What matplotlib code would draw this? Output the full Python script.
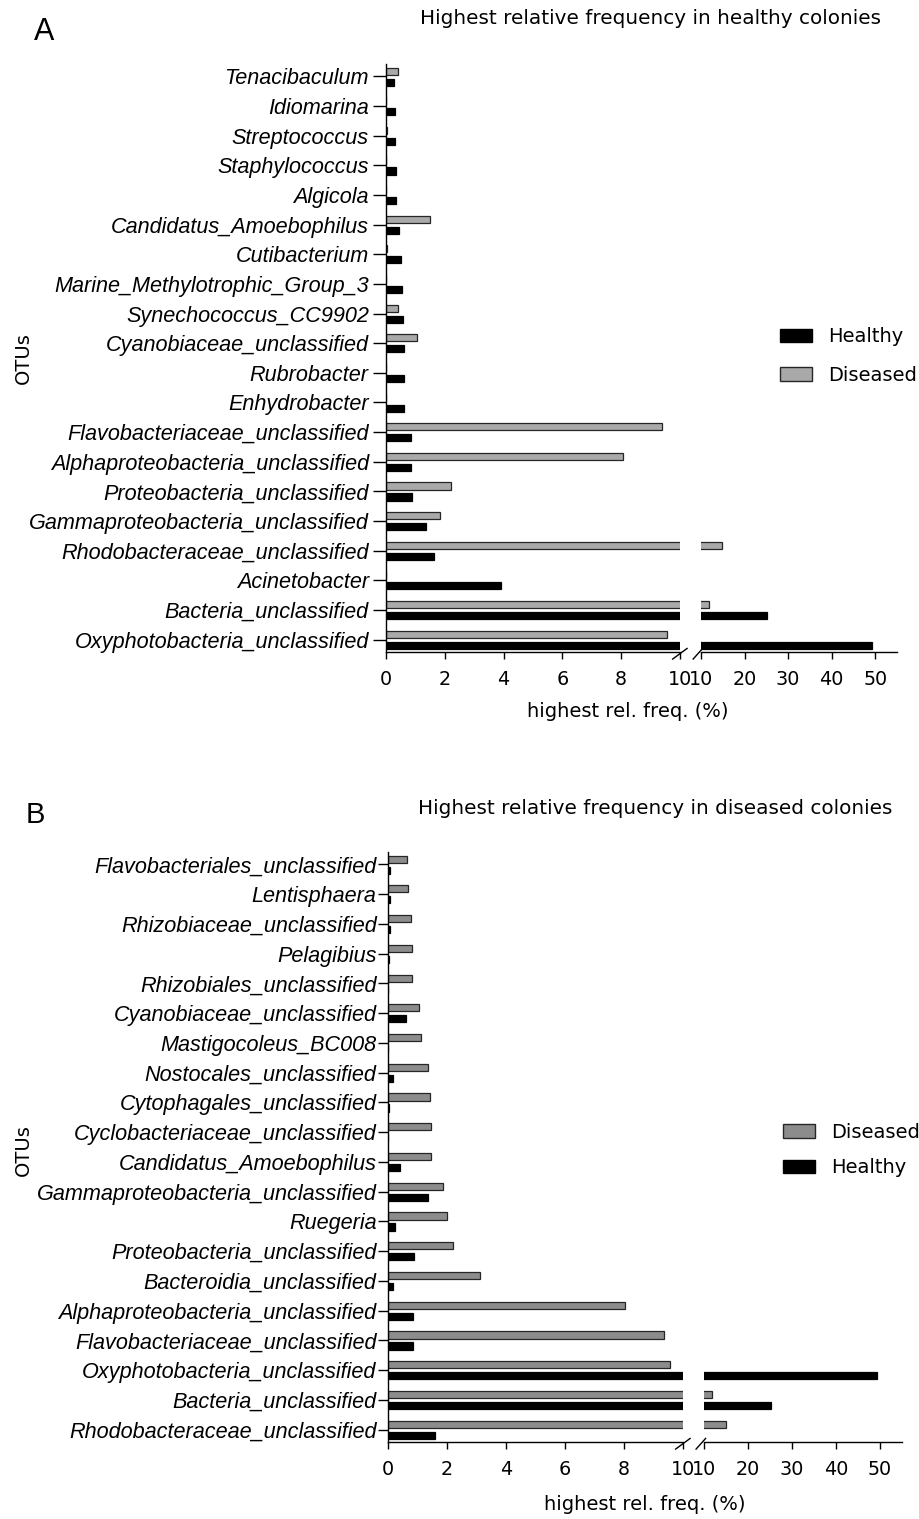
import numpy as np
import matplotlib
matplotlib.use('Agg')
import matplotlib.pyplot as plt
from matplotlib.patches import Patch

# panel A: highest relative frequency in healthy colonies
otus_a = ['Tenacibaculum', 'Idiomarina', 'Streptococcus', 'Staphylococcus', 'Algicola',
          'Candidatus_Amoebophilus', 'Cutibacterium', 'Marine_Methylotrophic_Group_3',
          'Synechococcus_CC9902', 'Cyanobiaceae_unclassified', 'Rubrobacter', 'Enhydrobacter',
          'Flavobacteriaceae_unclassified', 'Alphaproteobacteria_unclassified',
          'Proteobacteria_unclassified', 'Gammaproteobacteria_unclassified',
          'Rhodobacteraceae_unclassified', 'Acinetobacter', 'Bacteria_unclassified',
          'Oxyphotobacteria_unclassified']
healthy_a = [0.28, 0.31, 0.32, 0.33, 0.33, 0.44, 0.50, 0.53, 0.58, 0.60, 0.61, 0.62,
             0.85, 0.86, 0.90, 1.37, 1.63, 3.92, 25.2, 49.3]
diseased_a = [0.42, 0.0, 0.04, 0.0, 0.0, 1.50, 0.04, 0.0, 0.42, 1.04, 0.0, 0.0,
              9.40, 8.05, 2.21, 1.84, 14.8, 0.0, 11.8, 9.57]

# panel B: highest relative frequency in diseased colonies
otus_b = ['Flavobacteriales_unclassified', 'Lentisphaera', 'Rhizobiaceae_unclassified',
          'Pelagibius', 'Rhizobiales_unclassified', 'Cyanobiaceae_unclassified',
          'Mastigocoleus_BC008', 'Nostocales_unclassified', 'Cytophagales_unclassified',
          'Cyclobacteriaceae_unclassified', 'Candidatus_Amoebophilus',
          'Gammaproteobacteria_unclassified', 'Ruegeria', 'Proteobacteria_unclassified',
          'Bacteroidia_unclassified', 'Alphaproteobacteria_unclassified',
          'Flavobacteriaceae_unclassified', 'Oxyphotobacteria_unclassified',
          'Bacteria_unclassified', 'Rhodobacteraceae_unclassified']
diseased_b = [0.63, 0.69, 0.78, 0.81, 0.83, 1.04, 1.13, 1.35, 1.44, 1.46, 1.45, 1.85,
              1.99, 2.22, 3.11, 8.03, 9.37, 9.56, 11.8, 14.9]
healthy_b = [0.08, 0.08, 0.08, 0.04, 0.0, 0.60, 0.0, 0.17, 0.03, 0.0, 0.42, 1.36,
             0.23, 0.88, 0.16, 0.86, 0.84, 49.3, 25.3, 1.61]

left_ticks = [0, 2, 4, 6, 8, 10]
right_ticks = [10, 20, 30, 40, 50]

W, H = 920, 1519
fig = plt.figure(figsize=(W / 100, H / 100), dpi=100)


def rect(x0, x1, y0, y1):
    # pixel box (top-left origin) -> figure fraction
    return [x0 / W, 1 - y1 / H, (x1 - x0) / W, (y1 - y0) / H]


def draw_panel(box_l, box_r, otus, healthy, diseased, dis_color, ytick_len, ytick_pad):
    ax_l = fig.add_axes(rect(*box_l))
    ax_r = fig.add_axes(rect(*box_r))
    n = len(otus)
    pos = np.arange(n)
    for ax in (ax_l, ax_r):
        ax.barh(pos - 0.18, diseased, height=0.24, color=dis_color,
                edgecolor='#262626', linewidth=0.9)
        ax.barh(pos + 0.19, healthy, height=0.24, color='black',
                edgecolor='black', linewidth=0.9)
        ax.set_ylim(n - 1 + 0.42, -0.42)
        ax.spines['top'].set_visible(False)
        ax.spines['right'].set_visible(False)
        for s in ax.spines.values():
            s.set_linewidth(1.0)
        ax.tick_params(axis='x', length=5, width=1.0, pad=8, labelsize=13.8)
    ax_l.set_xlim(0, 10)
    ax_r.set_xlim(10, 55)
    ax_l.set_xticks(left_ticks)
    ax_r.set_xticks(right_ticks)
    ax_l.set_yticks(pos)
    ax_l.set_yticklabels(otus, fontstyle='italic', family='Liberation Sans', fontsize=15.6)
    ax_l.tick_params(axis='y', length=ytick_len, width=1.0, pad=ytick_pad)
    ax_r.spines['left'].set_visible(False)
    ax_r.set_yticks([])

    # break marks on the x axis
    kw = dict(color='black', linewidth=1.0, clip_on=False)
    ax_l.plot([1 - 0.025, 1 + 0.024], [-0.012, 0.006], transform=ax_l.transAxes, **kw)
    ax_r.plot([-0.04, 0.008], [-0.012, 0.006], transform=ax_r.transAxes, **kw)
    return ax_l, ax_r


# ---- panel A ----
draw_panel((386, 680, 64, 652), (701, 897, 64, 652),
           otus_a, healthy_a, diseased_a, '#a9a9a9', 9.4, 3)
fig.text(44 / W, 1 - 32 / H, 'A', fontsize=22, family='Liberation Sans', ha='center', va='center')
fig.text(651 / W, 1 - 19 / H, 'Highest relative frequency in healthy colonies',
         fontsize=14.4, ha='center', va='center')
fig.text(23 / W, 1 - 358 / H, 'OTUs', fontsize=14, rotation=90, ha='center', va='center')
fig.text(628 / W, 1 - 711 / H, 'highest rel. freq. (%)', fontsize=14, ha='center', va='center')
fig.legend(handles=[Patch(facecolor='black', edgecolor='black', label='Healthy'),
                    Patch(facecolor='#a9a9a9', edgecolor='#262626', label='Diseased')],
           loc='center left', bbox_to_anchor=(780 / W, 1 - 356 / H), frameon=False,
           fontsize=14, handlelength=1.65, handleheight=0.7, handletextpad=0.85,
           labelspacing=1.0, borderpad=0, borderaxespad=0)

# ---- panel B ----
draw_panel((388, 683, 852, 1442), (704, 902, 852, 1442),
           otus_b, healthy_b, diseased_b, '#8c8c8c', 7.2, 1)
fig.text(35 / W, 1 - 815 / H, 'B', fontsize=21, family='Liberation Sans', ha='center', va='center')
fig.text(655 / W, 1 - 808 / H, 'Highest relative frequency in diseased colonies',
         fontsize=14.4, ha='center', va='center')
fig.text(23 / W, 1 - 1150 / H, 'OTUs', fontsize=14, rotation=90, ha='center', va='center')
fig.text(645 / W, 1 - 1505 / H, 'highest rel. freq. (%)', fontsize=14, ha='center', va='center')
fig.legend(handles=[Patch(facecolor='#8c8c8c', edgecolor='#262626', label='Diseased'),
                    Patch(facecolor='black', edgecolor='black', label='Healthy')],
           loc='center left', bbox_to_anchor=(783 / W, 1 - 1150 / H), frameon=False,
           fontsize=14, handlelength=1.65, handleheight=0.7, handletextpad=0.85,
           labelspacing=0.85, borderpad=0, borderaxespad=0)

fig.savefig('out.png', dpi=100)
